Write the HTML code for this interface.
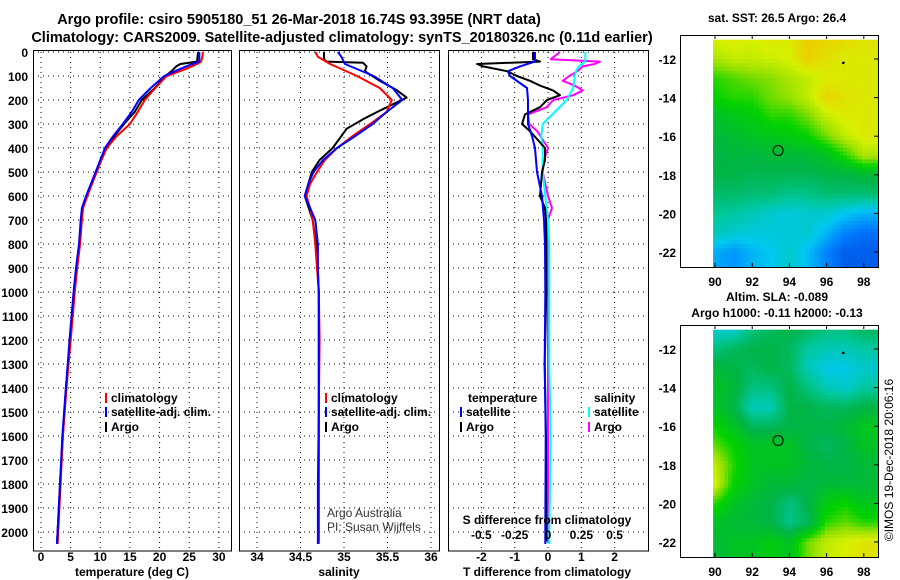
<!DOCTYPE html>
<html><head><meta charset="utf-8">
<style>
html,body{margin:0;padding:0;background:#fff;}
svg{display:block;font-family:"Liberation Sans",Arial,sans-serif;}
.b{font-weight:bold;font-size:12px;}
.n{font-weight:normal;font-size:12px;}
.t{font-weight:bold;font-size:14.5px;}
</style></head>
<body>
<svg id="fig" width="900" height="580" viewBox="0 0 900 580" xmlns="http://www.w3.org/2000/svg">
<text class="t" x="299" y="24" text-anchor="middle">Argo profile: csiro 5905180_51 26-Mar-2018 16.74S 93.395E (NRT data)</text>
<text class="t" x="342" y="42" text-anchor="middle">Climatology: CARS2009. Satellite-adjusted climatology: synTS_20180326.nc (0.11d earlier)</text>
<g id="g"></g>
</svg>
<script>
// ---- data ----
const depthTicks=[0,100,200,300,400,500,600,700,800,900,1000,1100,1200,1300,1400,1500,1600,1700,1800,1900,2000];
const tTicks=[0,5,10,15,20,25,30];
const sTicks=[34,34.5,35,35.5,36];
const sTickLabels=["34","34.5","35","35.5","36"];
const dtTicks=[-2,-1,0,1,2];
const dsTicks=[-0.5,-0.25,0,0.25,0.5];
const dsTickLabels=["-0.5","-0.25","0","0.25","0.5"];

const climDepth=[0,20,40,50,70,100,150,200,250,300,350,400,450,500,600,650,700,800,900,1000,1200,1400,1600,1800,2000,2050];
const climT=[27.3,27.2,27.0,26.3,24.5,21.2,19.3,17.5,16.3,15.0,12.8,11.1,10.2,9.4,7.8,7.1,6.9,6.6,6.1,5.7,5.0,4.3,3.7,3.3,2.9,2.8];
const satT=[26.7,26.7,26.7,25.5,23.5,20.8,18.5,16.5,15.3,13.8,12.2,10.8,10.0,9.2,7.6,6.9,6.7,6.4,5.9,5.5,4.8,4.2,3.6,3.2,2.8,2.7];
const argoDepth=[0,40,50,60,80,100,150,200,250,300,350,400,450,500,600,650,700,800,900,1000,1200,1400,1600,1800,2000,2040];
const argoT=[26.5,26.3,23.5,22.8,22.0,21.0,19.2,17.0,15.8,14.0,12.4,11.0,10.1,9.3,7.7,7.0,6.8,6.5,6.0,5.6,4.9,4.2,3.7,3.2,2.8,2.7];

const sDepth=[0,20,50,100,150,200,250,300,350,400,450,500,550,600,650,700,800,900,1000,1200,1500,1800,2050];
const climS=[34.67,34.70,34.84,35.15,35.41,35.55,35.49,35.30,35.10,34.92,34.78,34.69,34.61,34.57,34.61,34.64,34.67,34.69,34.71,34.72,34.71,34.71,34.71];
const satS=[34.93,34.97,35.01,35.34,35.56,35.67,35.49,35.33,35.13,34.92,34.76,34.65,34.59,34.55,34.61,34.67,34.70,34.70,34.71,34.71,34.71,34.70,34.70];
const argoSDepth=[0,30,40,45,60,80,120,160,190,220,250,280,320,400,450,500,600,700,800,1000,1500,2040];
const argoS=[34.77,34.77,34.80,35.22,35.26,35.24,35.41,35.61,35.72,35.55,35.38,35.22,35.03,34.87,34.72,34.63,34.55,34.64,34.68,34.71,34.71,34.71];

const dDepthSat=[0,40,60,80,100,150,200,250,300,350,400,500,600,700,800,1000,1300,1600,2000,2050];
const dTsat=[-0.39,-0.39,-0.84,-1.2,-1.14,-0.63,-0.6,-0.6,-0.6,-0.48,-0.39,-0.33,-0.18,-0.12,-0.09,-0.08,-0.1,-0.07,-0.08,-0.08];
const dSsat=[0.28,0.28,0.23,0.21,0.2,0.19,0.14,0.05,-0.04,-0.05,-0.04,-0.04,-0.02,0.0,0.01,0.01,0.01,0.02,0.01,0.01];
const dDepthArgo=[0,30,40,50,60,80,100,120,140,160,180,200,230,260,300,330,400,450,500,600,650,700,800,1000,1300,1600,2000,2040];
const dTargo=[-0.45,-0.45,-0.24,-2.13,-1.95,-1.23,-0.93,-0.54,-0.24,0.15,0.36,-0.03,-0.24,-0.69,-0.78,-0.54,-0.09,-0.09,-0.18,-0.24,-0.09,-0.06,-0.06,-0.05,-0.1,-0.06,-0.05,-0.05];
const dSargo=[0.09,0.02,0.39,0.35,0.26,0.22,0.16,0.11,0.2,0.26,0.19,0.04,-0.01,-0.15,-0.14,-0.08,0.0,-0.03,-0.04,0.0,0.03,0.0,0.0,0.0,0.0,0.0,0.0,0.0];

const lonTicks=[90,92,94,96,98];
const latTicks=[-12,-14,-16,-18,-20,-22];
const gridLons=[90,91,92,93,94,95,96,97,98];
const gridLats=[-11,-12,-13,-14,-15,-16,-17,-18,-19,-20,-21,-22];
const sstGrid=[
[.74,.75,.74,.75,.75,.79,.78,.77,.76],
[.70,.72,.72,.73,.74,.79,.76,.75,.75],
[.62,.64,.66,.67,.70,.72,.75,.75,.75],
[.60,.62,.62,.66,.68,.72,.78,.76,.75],
[.54,.56,.58,.62,.62,.66,.72,.75,.75],
[.52,.53,.55,.56,.58,.60,.66,.72,.75],
[.50,.51,.51,.52,.52,.52,.55,.62,.70],
[.50,.50,.49,.49,.49,.49,.50,.50,.52],
[.47,.47,.46,.46,.44,.44,.46,.46,.46],
[.43,.42,.40,.38,.37,.38,.38,.35,.33],
[.40,.38,.37,.37,.37,.38,.33,.28,.26],
[.32,.30,.33,.35,.38,.34,.28,.24,.24]];
const slaGrid=[
[.38,.38,.45,.48,.50,.48,.45,.45,.48],
[.45,.48,.50,.50,.48,.42,.40,.40,.42],
[.52,.50,.48,.50,.48,.40,.36,.36,.38],
[.55,.52,.45,.45,.50,.45,.40,.38,.42],
[.55,.50,.40,.40,.50,.50,.48,.48,.50],
[.60,.55,.48,.48,.50,.50,.50,.52,.56],
[.65,.60,.55,.55,.55,.50,.48,.50,.55],
[.72,.62,.55,.55,.55,.52,.50,.50,.52],
[.74,.60,.55,.52,.52,.50,.52,.52,.52],
[.62,.55,.52,.50,.45,.50,.58,.60,.56],
[.55,.52,.52,.50,.44,.48,.62,.65,.62],
[.52,.55,.55,.58,.55,.66,.72,.74,.76]];
const argoLon=93.395, argoLat=-16.74;

// ---- helpers ----
const NS="http://www.w3.org/2000/svg";
const G=document.getElementById('g');
function mk(tag,attrs,parent){const e=document.createElementNS(NS,tag);for(const k in attrs)e.setAttribute(k,attrs[k]);(parent||G).appendChild(e);return e;}
function txt(x,y,s,cls,anchor,parent){const e=mk('text',{x:x,y:y,'class':cls||'b','text-anchor':anchor||'start'},parent);e.textContent=s;return e;}

const yD=d=>52+d*0.24;
const TOP=52,BOT=551;
const xT=t=>41+t*5.93;
const xS=s=>257+(s-34)*87;
const xdT=t=>548+t*33.3;
const xdS=s=>548+s*133.3;

function panel(name){
  const g=mk('g',{});
  
  
  return g;
}
function hgrid(g,x0,x1){
  depthTicks.forEach(d=>{const l=mk('line',{x1:x0,x2:x1,y1:yD(d),y2:yD(d),stroke:'#000','stroke-width':1,'stroke-dasharray':'1,4'},g);
  
  });
}
function vgrid(g,x){const l=mk('line',{x1:x,x2:x,y1:TOP,y2:BOT,stroke:'#000','stroke-width':1,'stroke-dasharray':'1,4'},g);
  
  }
function frame(g,x0,x1){const r=mk('rect',{x:x0+0.5,y:TOP-1.5,width:x1-x0,height:BOT-TOP+1.5,fill:'none',stroke:'#000','stroke-width':1},g);
  
  }
function line(g,xs,ds,fx,color,name,w){
  const pts=xs.map((v,i)=>fx(v).toFixed(1)+','+yD(ds[i]).toFixed(1)).join(' ');
  const p=mk('polyline',{points:pts,fill:'none',stroke:color,'stroke-width':w||2,'stroke-linejoin':'round'},g);
  
  
}
function legendItem(g,x,y,color,label,name){
  mk('rect',{x:x,y:y-9,width:2,height:10,fill:color},g);
  const t=txt(x+6,y,label,'b','start',g);
  
  
}

// ---- panel 1: temperature ----
const p1=panel('temperature-panel');
hgrid(p1,33,231);
tTicks.forEach(t=>{vgrid(p1,xT(t));const l=txt(xT(t),561,String(t),'b','middle',p1);
  
  });
depthTicks.forEach(d=>{const l=txt(28,yD(d)+5,String(d),'b','end',p1);
  
  });
line(p1,argoT,argoDepth,xT,'#000','argo-temperature-line');
line(p1,climT,climDepth,xT,'#f00','climatology-temperature-line');
line(p1,satT,climDepth,xT,'#00f','satellite-temperature-line');
frame(p1,33,231);
legendItem(p1,105,402,'#f00','climatology','legend-climatology');
legendItem(p1,105,416,'#00f','satellite-adj. clim.','legend-satellite');
legendItem(p1,105,431,'#000','Argo','legend-argo');
{const t=txt(132,576,'temperature (deg C)','b','middle',p1);}

// ---- panel 2: salinity ----
const p2=panel('salinity-panel');
hgrid(p2,239,439);
sTicks.forEach((s,i)=>{vgrid(p2,xS(s));const l=txt(xS(s),561,sTickLabels[i],'b','middle',p2);
  
  });
line(p2,argoS,argoSDepth,xS,'#000','argo-salinity-line');
line(p2,climS,sDepth,xS,'#f00','climatology-salinity-line');
line(p2,satS,sDepth,xS,'#00f','satellite-salinity-line');
frame(p2,239,439);
legendItem(p2,325,402,'#f00','climatology','legend-climatology-s');
legendItem(p2,325,416,'#00f','satellite-adj. clim.','legend-satellite-s');
legendItem(p2,325,431,'#000','Argo','legend-argo-s');
{const a=txt(327,517,'Argo Australia','n','start',p2);a.setAttribute('fill','#333');

const b=txt(327,531,'PI: Susan Wijffels','n','start',p2);b.setAttribute('fill','#333');
}
{const t=txt(339,576,'salinity','b','middle',p2);}

// ---- panel 3: differences ----
const p3=panel('difference-panel');
hgrid(p3,448,648);
dtTicks.forEach(t=>{vgrid(p3,xdT(t));const l=txt(xdT(t),561,String(t),'b','middle',p3);
  
  });
line(p3,dSargo,dDepthArgo,xdS,'#f0f','argo-salinity-diff-line');
line(p3,dSsat,dDepthSat,xdS,'#0ff','satellite-salinity-diff-line');
line(p3,dTargo,dDepthArgo,xdT,'#000','argo-temperature-diff-line');
line(p3,dTsat,dDepthSat,xdT,'#00f','satellite-temperature-diff-line');
frame(p3,448,648);
{const t=txt(468,402,'temperature','b','start',p3);}
legendItem(p3,460,416,'#00f','satellite','legend-t-satellite');
legendItem(p3,460,431,'#000','Argo','legend-t-argo');
{const t=txt(594,402,'salinity','b','start',p3);}
legendItem(p3,588,416,'#0ff','satellite','legend-s-satellite');
legendItem(p3,588,431,'#f0f','Argo','legend-s-argo');
{const t=txt(547,524,'S difference from climatology','b','middle',p3);}
dsTicks.forEach((s,i)=>{const l=txt(xdS(s),539,dsTickLabels[i],'b','middle',p3);
  
  });
{const t=txt(547,576,'T difference from climatology','b','middle',p3);}

// ---- maps ----
const cstops=[[0.18,[0,40,210]],[0.28,[0,130,255]],[0.35,[0,200,240]],[0.42,[0,200,160]],[0.5,[0,180,70]],[0.6,[0,210,0]],[0.68,[150,225,0]],[0.74,[215,240,0]],[0.8,[240,200,0]],[0.86,[235,110,0]]];
function cmap(v){
  if(v<=cstops[0][0])return 'rgb('+cstops[0][1]+')';
  for(let i=1;i<cstops.length;i++){if(v<=cstops[i][0]){const a=cstops[i-1],b=cstops[i];const f=(v-a[0])/(b[0]-a[0]);
    return 'rgb('+a[1].map((c,k)=>Math.round(c+(b[1][k]-c)*f)).join(',')+')';}}
  return 'rgb('+cstops[cstops.length-1][1]+')';
}
function sample(grid,lon,lat){
  let fx=(lon-gridLons[0]);fx=Math.max(0,Math.min(gridLons.length-1.001,fx));
  let fy=(gridLats[0]-lat);fy=Math.max(0,Math.min(gridLats.length-1.001,fy));
  const i=Math.floor(fx),j=Math.floor(fy),u=fx-i,w=fy-j;
  return grid[j][i]*(1-u)*(1-w)+grid[j][i+1]*u*(1-w)+grid[j+1][i]*(1-u)*w+grid[j+1][i+1]*u*w;
}
function drawMap(grid,top,name,title1,title2){
  const g=mk('g',{});
  
  
  const bx0=680,bx1=878,by0=top,by1=top+232;
  const lonX=l=>715+(l-90)*18.6;
  const latY=l=>top+24+(-12-l)*19.3;
  const step=0.2;
  for(let lat=-11;lat>-22.8;lat-=step){
    for(let lon=89.9;lon<98.8;lon+=step){
      const x=lonX(lon),y=latY(lat);
      const x2=Math.min(bx1,lonX(lon+step)),y2=Math.min(by1,latY(lat-step));
      const yy=Math.max(by0,y);
      if(x2<=x||y2<=yy)continue;
      const c=mk('rect',{x:x.toFixed(1),y:yy.toFixed(1),width:(x2-x+0.4).toFixed(1),height:(y2-yy+0.4).toFixed(1),fill:cmap(sample(grid,lon+step/2,lat-step/2))},g);
      
      
    }
  }
  mk('rect',{x:bx0+0.5,y:by0+0.5,width:bx1-bx0,height:by1-by0,fill:'none',stroke:'#000'},g);
  lonTicks.forEach(l=>{const x=lonX(l);mk('line',{x1:x,x2:x,y1:by0,y2:by0+4,stroke:'#000'},g);mk('line',{x1:x,x2:x,y1:by1,y2:by1-4,stroke:'#000'},g);
    const t=txt(x,by1+19,String(l),'b','middle',g);});
  latTicks.forEach(l=>{const y=latY(l);mk('line',{x1:bx1,x2:bx1-4,y1:y,y2:y,stroke:'#000'},g);
    const t=txt(676,y+5,String(l),'b','end',g);});
  mk('circle',{cx:lonX(argoLon),cy:latY(argoLat),r:5,fill:'none',stroke:'#000'},g);
  mk('circle',{cx:lonX(96.9),cy:latY(-12.2),r:1.3,fill:'#000'},g);
  const t1=txt(777,title2?top-24:top-13,title1,'b','middle',g);
  if(title2){const t2=txt(777,top-8,title2,'b','middle',g);}
}
drawMap(sstGrid,35,'sst-map','sat. SST: 26.5 Argo: 26.4');
drawMap(slaGrid,325,'sla-map','Altim. SLA: -0.089','Argo h1000: -0.11 h2000: -0.13');
{const t=txt(0,0,'©IMOS 19-Dec-2018 20:06:16','n','middle');
t.setAttribute('transform','translate(893,460) rotate(-90)');
}
</script>
</body></html>
